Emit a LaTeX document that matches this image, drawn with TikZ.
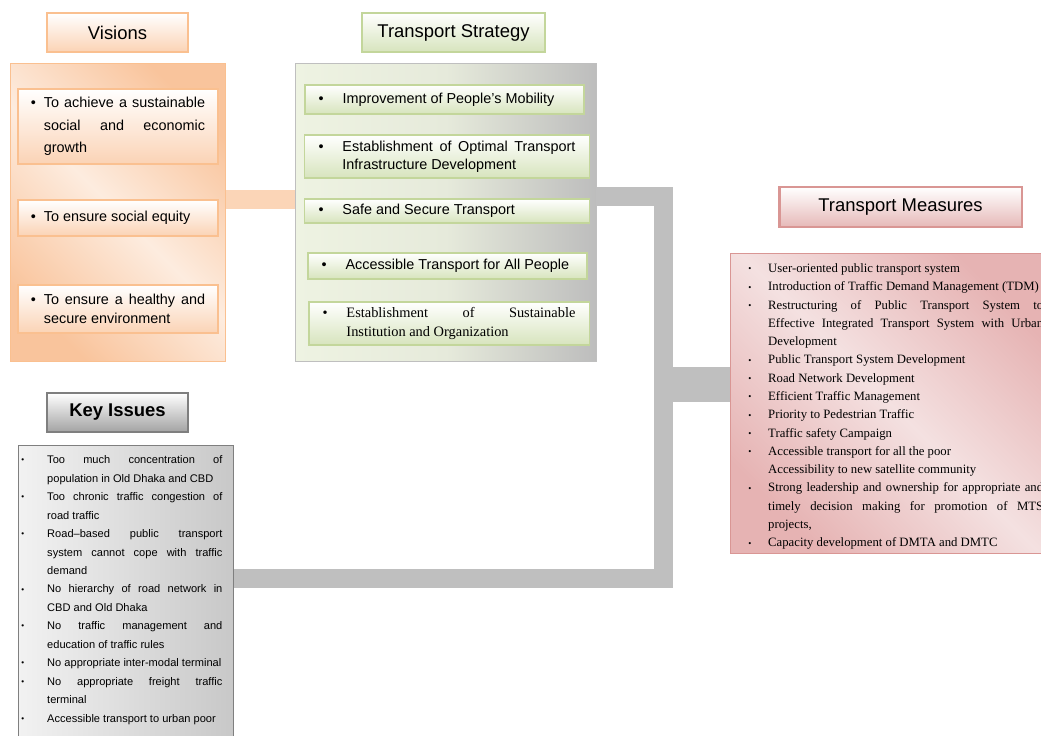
\documentclass[tikz,border=0pt]{standalone}
\usepackage{fontspec}
\setmainfont{Liberation Sans}
\newfontfamily\serifface{Liberation Serif}
\usepackage{tikz}
\usetikzlibrary{positioning}

\definecolor{visedge}{HTML}{FAC090}
\definecolor{visdark}{HTML}{F9C49C}
\definecolor{vislight}{HTML}{FDECDF}
\definecolor{visfill}{HTML}{FBD3B5}
\definecolor{visbar}{HTML}{FBD5B7}
\definecolor{stredge}{HTML}{C3D69B}
\definecolor{strfill}{HTML}{D7E4BD}
\definecolor{strlight}{HTML}{EEF3E2}
\definecolor{strmid}{HTML}{E6EADB}
\definecolor{strgray}{HTML}{BDBDBD}
\definecolor{measedge}{HTML}{D99694}
\definecolor{measdark}{HTML}{E6B3B3}
\definecolor{measlight}{HTML}{F4E1E1}
\definecolor{measfill}{HTML}{E6B9B8}
\definecolor{keyedge}{HTML}{7F7F7F}
\definecolor{keylight}{HTML}{F2F2F2}
\definecolor{keydark}{HTML}{C8C8C8}
\definecolor{keyhead}{HTML}{A3A3A3}
\definecolor{barcol}{HTML}{BFBFBF}

\newlength{\bulw}
\newcommand{\bulmark}{•}
% first bullet of a box (no \par before it), then further bullets
\newcommand{\firstitem}{\noindent\hangindent=\bulw\hangafter=1\makebox[\bulw][l]{\bulmark}}
\newcommand{\bitem}{\par\firstitem}

\begin{document}
\begin{tikzpicture}[x=0.02cm, y=-0.02cm,
  every node/.style={inner sep=0pt, font=\fontsize{8.2}{10.2}\selectfont},
  head/.style={rectangle, draw, line width=1.2pt, minimum height=22.1pt,
               font=\fontsize{10.5}{12}\selectfont},
  vishead/.style={head, draw=visedge, top color=white, bottom color=visfill, minimum width=80pt},
  strhead/.style={head, draw=stredge, top color=white, bottom color=strfill, minimum width=103.8pt},
  meashead/.style={head, draw=measedge, top color=white, bottom color=measfill, minimum width=137.8pt,
                   minimum height=22.7pt},
  keyhead/.style={head, draw=keyedge, top color=white, bottom color=keyhead, minimum width=80pt,
                  font=\fontsize{10.5}{12}\selectfont\bfseries},
  panel/.style={rectangle, draw, line width=0.9pt},
  vispanel/.style={panel, draw=visedge, top color=visdark, bottom color=visdark,
                   middle color=vislight, shading angle=-45,
                   minimum width=122.5pt, minimum height=169.5pt},
  strpanel/.style={panel, draw=barcol, line width=0.6pt, left color=strlight, right color=strgray,
                   middle color=strmid, minimum width=171.2pt, minimum height=169.5pt},
  measpanel/.style={panel, draw=measedge, top color=measdark, bottom color=measdark,
                    middle color=measlight, shading angle=-45,
                    minimum width=181.4pt, minimum height=170.7pt},
  keypanel/.style={panel, draw=keyedge, left color=keylight, right color=keydark,
                   minimum width=122.5pt, minimum height=172.9pt},
  listbox/.style={rectangle, draw, line width=1.1pt, align=justify},
  visitem/.style={listbox, draw=visedge, top color=white, bottom color=visfill,
                  text width=99.2pt, inner xsep=7.2pt,
                  execute at begin node={\setlength{\bulw}{7.4pt}}},
  stritem/.style={listbox, draw=stredge, top color=white, bottom color=strfill,
                  inner xsep=8pt,
                  execute at begin node={\setlength{\bulw}{13.6pt}}},
  meastext/.style={anchor=north west, text width=167.8pt, align=justify,
                   font=\serifface\fontsize{7.25}{10.4}\selectfont,
                   execute at begin node={\setlength{\bulw}{11.3pt}%
                     \renewcommand{\bulmark}{\raisebox{0.4pt}{\fontsize{5}{5}\selectfont •}}}},
  keytext/.style={anchor=north west, text width=115pt, align=justify,
                  font=\fontsize{6.3}{10.5}\selectfont,
                  execute at begin node={\setlength{\bulw}{15.3pt}%
                    \renewcommand{\bulmark}{\hspace{0.6pt}\raisebox{0.5pt}{\fontsize{4.6}{5}\selectfont •}}}},
  visbar/.style={draw=visbar, line width=10.8pt},
  graybar/.style={draw=barcol, line width=10.8pt, line join=miter},
]
  \useasboundingbox (0,0) rectangle (1041,736);
  \clip (0,0) rectangle (1041,736);

  % visions
  \node[vishead] (vistitle) at (117.5,32.5) {Visions};
  \node[vispanel] (vispanel) at (118,212.5) {};
  \node[visitem, minimum height=42.5pt, font=\fontsize{8.2}{12.8}\selectfont] (vis1) at (118,126.5)
    {\firstitem To achieve a sustainable\linebreak social and economic\linebreak growth\par};
  \node[visitem, minimum height=20.4pt] (vis2) at (118,218) {\firstitem To ensure social equity\par};
  \node[visitem, minimum height=27.2pt, font=\fontsize{8.2}{10.8}\selectfont] (vis3) at (118,309)
    {\firstitem To ensure a healthy and\linebreak secure environment\par};

  % transport strategy
  \node[strhead] (strtitle) at (453.5,32.5) {Transport Strategy};
  \node[strpanel] (strpanel) at (446,212.5) {};
  \node[stritem, text width=143.3pt, minimum height=16.4pt] (str1) at (444.5,99.5)
    {\firstitem Improvement of People’s Mobility\par};
  \node[stritem, text width=146.2pt, minimum height=24.4pt] (str2) at (447,156.5)
    {\firstitem Establishment of Optimal Transport\linebreak Infrastructure Development\par};
  \node[stritem, text width=146.2pt, minimum height=13.6pt] (str3) at (447,211)
    {\firstitem Safe and Secure Transport\par};
  \node[stritem, text width=143.3pt, minimum height=14.7pt] (str4) at (447.5,266)
    {\firstitem Accessible Transport for All People\par};
  \node[stritem, text width=143.9pt, minimum height=24.4pt,
        font=\serifface\fontsize{8.2}{10.8}\selectfont] (str5) at (449,323.5)
    {\firstitem Establishment of Sustainable\linebreak Institution and Organization\par};

  % transport measures
  \node[meashead] (meastitle) at (900.5,207) {Transport Measures};
  \node[measpanel] (measpanel) at (890,403.5) {};
  \node[meastext] (meastext) at (748,254) {%
    \bitem User-oriented public transport system
    \bitem Introduction of Traffic Demand Management (TDM)
    \bitem Restructuring of Public Transport System to\linebreak Effective Integrated Transport System with Urban\linebreak Development
    \bitem Public Transport System Development
    \bitem Road Network Development
    \bitem Efficient Traffic Management
    \bitem Priority to Pedestrian Traffic
    \bitem Traffic safety Campaign
    \bitem Accessible transport for all the poor\newline Accessibility to new satellite community
    \bitem Strong leadership and ownership for appropriate and\linebreak timely decision making for promotion of MTS\linebreak projects,
    \bitem Capacity development of DMTA and DMTC\par};

  % key issues
  \node[keyhead] (keytitle) at (117.5,412.5) {Key Issues};
  \node[keypanel] (keypanel) at (126,597.5) {};
  \node[keytext] (keytext) at (20,445) {%
    \bitem Too much concentration of\linebreak population in Old Dhaka and CBD
    \bitem Too chronic traffic congestion of\linebreak road traffic
    \bitem Road–based public transport\linebreak system cannot cope with traffic\linebreak demand
    \bitem No hierarchy of road network in\linebreak CBD and Old Dhaka
    \bitem No traffic management and\linebreak education of traffic rules
    \bitem No appropriate inter-modal terminal
    \bitem No appropriate freight traffic\linebreak terminal
    \bitem Accessible transport to urban poor\par};

  % connectors
  \coordinate (hub) at (663.5,384.5);
  \draw[visbar] ([yshift=7.4pt]vispanel.east) -- ([yshift=7.4pt]strpanel.west);
  \draw[graybar] ([yshift=9.1pt]strpanel.east) -| (hub) |- ([yshift=10.8pt]keypanel.east);
  \draw[graybar, line width=19.8pt] (hub) -- (hub -| measpanel.west);
\end{tikzpicture}
\end{document}
